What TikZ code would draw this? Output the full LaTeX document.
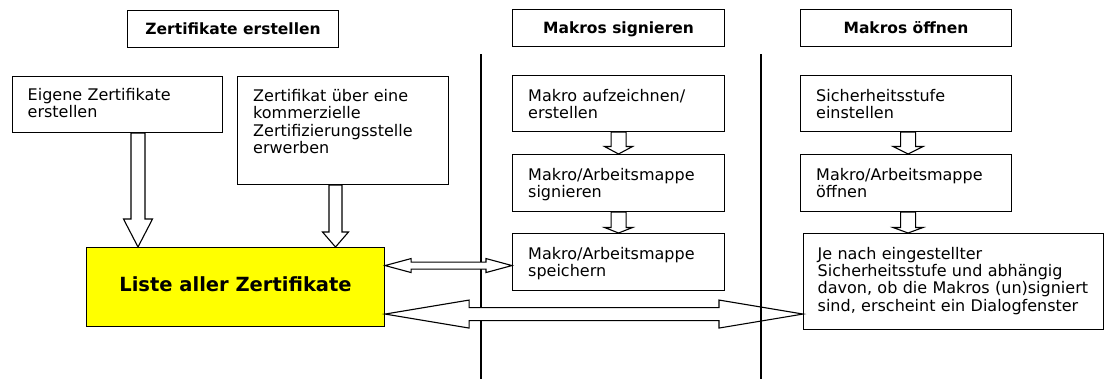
\documentclass[tikz,border=0pt]{standalone}
\usepackage{fontspec}
\setmainfont{DejaVu Sans}
\usetikzlibrary{calc}
\definecolor{yel}{RGB}{255,255,0}
\tikzset{
 box/.style={draw=black, line width=1.1bp, fill=white, inner sep=0pt, anchor=north west},
 ttl/.style={box, font=\fontsize{15.5bp}{18bp}\selectfont\bfseries, text height=24bp, text depth=13bp, align=center},
 txt/.style={font=\fontsize{16bp}{17.4bp}\selectfont, align=left, text width=295bp, inner sep=0pt, anchor=base west},
 blk/.style={draw=black, line width=1.1bp, fill=white, line join=miter},
 sepline/.style={draw=black, line width=1.1bp},
}
\newcommand\vblk[5]{\draw[blk] ($(#1)+(-#3,0)$) -- ($(#2)+(-#3,-#5)$) -- ($(#2)+(-#4,-#5)$) -- (#2) -- ($(#2)+(#4,-#5)$) -- ($(#2)+(#3,-#5)$) -- ($(#1)+(#3,0)$) -- cycle;}
\newcommand\hblk[5]{\draw[blk] (#1) -- ($(#1)+(#5,-#4)$) -- ($(#1)+(#5,-#3)$) -- ($(#2)+(-#5,-#3)$) -- ($(#2)+(-#5,-#4)$) -- (#2) -- ($(#2)+(-#5,#4)$) -- ($(#2)+(-#5,#3)$) -- ($(#1)+(#5,#3)$) -- ($(#1)+(#5,#4)$) -- cycle;}
\begin{document}
\begin{tikzpicture}[x=1bp,y=-1bp]
\useasboundingbox (0,0) rectangle (1104,379);
% separator line behind arrows
\draw[sepline] (481,54) -- (481,379);
% titles
\node[ttl, minimum width=211bp] (t1) at (127,10) {Zertifikate erstellen};
\node[ttl, minimum width=212bp] (t2) at (512,9) {Makros signieren};
\node[ttl, minimum width=211bp] (t3) at (800,9) {Makros öffnen};
% column 1
\node[box, minimum width=210bp, minimum height=56bp] (eig) at (12,76) {};
\node[txt] (eigT) at ($(eig.north west)+(15.5,24.5)$) {Eigene Zertifikate\\erstellen};
\node[box, minimum width=211bp, minimum height=108bp] (zert) at (237,76) {};
\node[txt] (zertT) at ($(zert.north west)+(16,25.5)$) {Zertifikat über eine\\kommerzielle\\Zertifizierungsstelle\\erwerben};
\node[box, fill=yel, minimum width=298bp, minimum height=79bp] (liste) at (86,247) {};
\node[font=\fontsize{19.5bp}{22bp}\selectfont\bfseries, anchor=base, inner sep=0pt] (listeT) at ($(liste.north)+(0,44.7)$) {Liste aller Zertifikate};
% column 2
\node[box, minimum width=212bp, minimum height=56bp] (m1) at (512,75) {};
\node[txt] (m1T) at ($(m1.north west)+(16,26)$) {Makro aufzeichnen/\\erstellen};
\node[box, minimum width=212bp, minimum height=57bp] (m2) at (512,154) {};
\node[txt] (m2T) at ($(m2.north west)+(16,26)$) {Makro/Arbeitsmappe\\signieren};
\node[box, minimum width=212bp, minimum height=57bp] (m3) at (512,233) {};
\node[txt] (m3T) at ($(m3.north west)+(16,26)$) {Makro/Arbeitsmappe\\speichern};
% column 3
\node[box, minimum width=211bp, minimum height=56bp] (s1) at (800,75) {};
\node[txt] (s1T) at ($(s1.north west)+(16,26)$) {Sicherheitsstufe\\einstellen};
\node[box, minimum width=211bp, minimum height=57bp] (s2) at (800,154) {};
\node[txt] (s2T) at ($(s2.north west)+(16,26)$) {Makro/Arbeitsmappe\\öffnen};
\node[box, minimum width=300bp, minimum height=96bp] (je) at (803,233) {};
\node[txt] (jeT) at ($(je.north west)+(14.5,26)$) {Je nach eingestellter\\Sicherheitsstufe und abhängig\\davon, ob die Makros (un)signiert\\sind, erscheint ein Dialogfenster};
% down arrows
\coordinate (a1s) at ([xshift=126bp]eig.south west);
\coordinate (a1e) at (a1s |- liste.north);
\vblk{a1s}{a1e}{7}{14.5}{28}
\coordinate (a2s) at ([xshift=98.5bp]zert.south west);
\coordinate (a2e) at (a2s |- liste.north);
\vblk{a2s}{a2e}{6.5}{13}{15}
\coordinate (a3s) at (m1.south);
\coordinate (a3e) at (m2.north);
\vblk{a3s}{a3e}{7.5}{14}{7.5}
\coordinate (a4s) at (m2.south);
\coordinate (a4e) at (m3.north);
\vblk{a4s}{a4e}{7.5}{14}{5.5}
\coordinate (a5s) at ([xshift=2bp]s1.south);
\coordinate (a5e) at (a5s |- s2.north);
\vblk{a5s}{a5e}{7.5}{15}{7.5}
\coordinate (a6s) at ([xshift=2bp]s2.south);
\coordinate (a6e) at (a6s |- je.north);
\vblk{a6s}{a6e}{7.5}{15}{5.5}
% horizontal double arrows
\coordinate (h1l) at ([yshift=21.5bp]liste.east);
\coordinate (h1r) at (h1l -| m3.west);
\hblk{h1l}{h1r}{3.5}{7}{26}
\coordinate (h2l) at ([yshift=-27bp]liste.east);
\coordinate (h2r) at (h2l -| je.west);
\hblk{h2l}{h2r}{6.5}{14}{84}
% separator line in front
\draw[sepline] (761,54) -- (761,379);
\end{tikzpicture}
\end{document}
